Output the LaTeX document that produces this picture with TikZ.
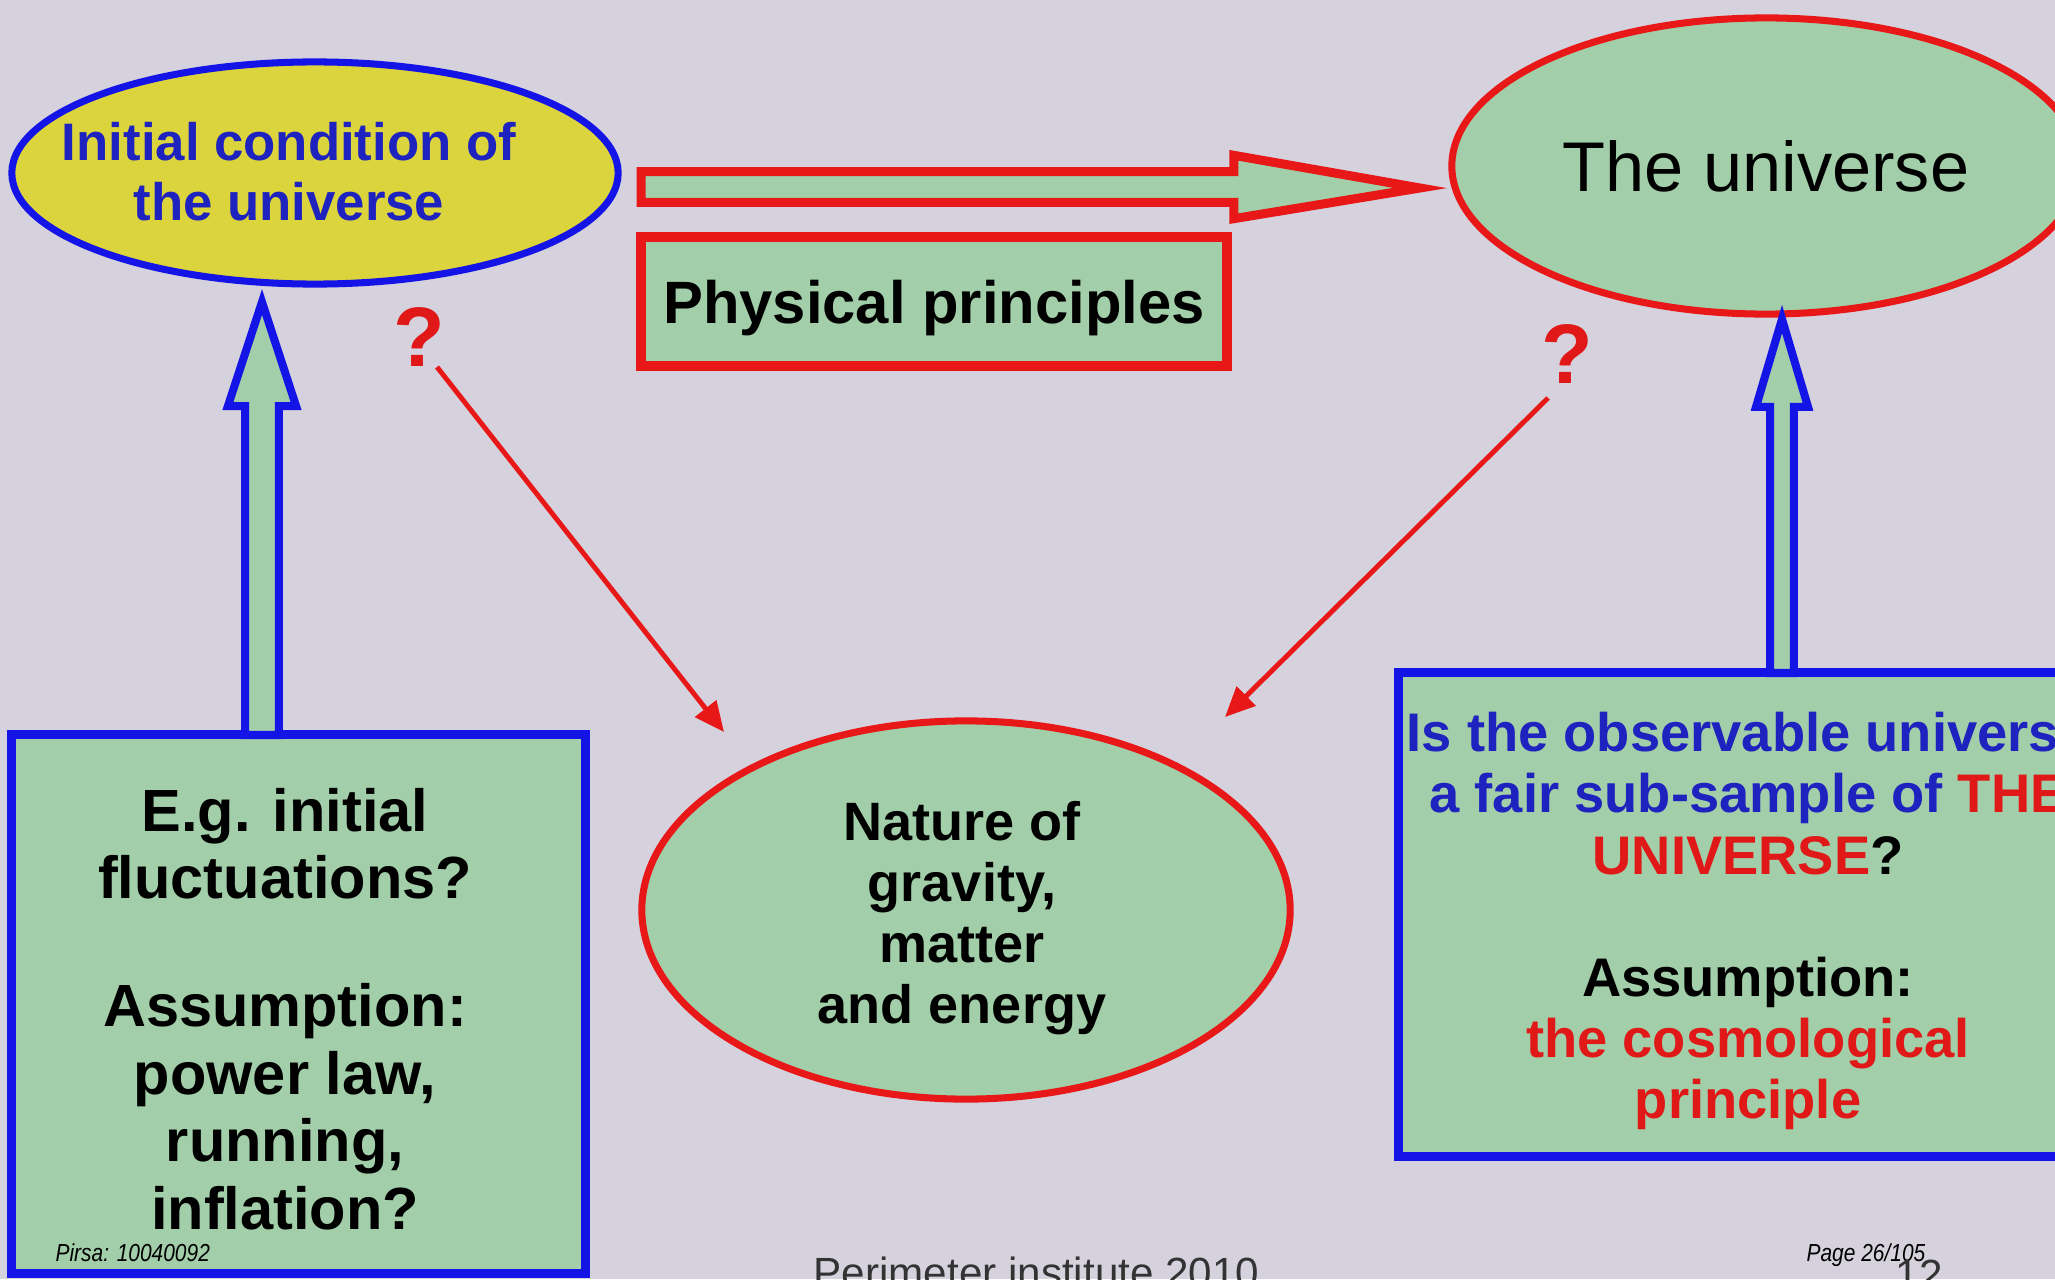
\documentclass[tikz,border=0pt]{standalone}
\usepackage{fontspec}
\setmainfont{Liberation Sans}
\usetikzlibrary{arrows.meta,shapes.geometric,calc}
\definecolor{bgc}{HTML}{D5D1DD}
\definecolor{fillg}{HTML}{A2CFA9}
\definecolor{filly}{HTML}{DCD43C}
\definecolor{lblue}{HTML}{1414E6}
\definecolor{lred}{HTML}{E81818}
\definecolor{tblue}{HTML}{1E22BE}
\definecolor{tred}{HTML}{E01818}
\definecolor{tgray}{HTML}{333333}
\begin{document}
\begin{tikzpicture}[x=0.01cm,y=-0.01cm,
  ell/.style={ellipse,inner sep=0pt,line width=2pt},
  boxr/.style={rectangle,inner sep=0pt,draw=lred,fill=fillg,line width=2.7pt},
  boxb/.style={rectangle,inner sep=0pt,draw=lblue,fill=fillg,line width=2.5pt},
  bluearr/.style={draw=lblue,fill=fillg,line width=2.28pt,line join=miter},
  redarr/.style={draw=lred,fill=fillg,line width=2.56pt,line join=miter},
  thinarr/.style={draw=lred,line width=1.4pt,-{Triangle[length=8.5pt,width=7.5pt]}},
  txt/.style={inner sep=0pt,align=center}]
\useasboundingbox (0,0) rectangle (2055,1279);
\clip (0,0) rectangle (2055,1279);
\fill[bgc] (0,0) rectangle (2055,1279);

% ellipses
\node[ell,draw=lblue,fill=filly,minimum width=6.06cm,minimum height=2.22cm] (ic) at (315,173) {};
\node[txt,text=tblue,font=\fontsize{15pt}{17.07pt}\selectfont\bfseries] (ictext) at (289,172)
  {Initial condition of\\the universe};
\node[ell,draw=lred,fill=fillg,minimum width=6.28cm,minimum height=2.96cm,
  font=\fontsize{20pt}{24pt}\selectfont,text depth=0pt] (univ) at (1766,166) {The universe};
\node[ell,draw=lred,fill=fillg,minimum width=6.48cm,minimum height=3.78cm] (nat) at (966,910) {};
\node[txt,font=\fontsize{15.36pt}{17.4pt}\selectfont\bfseries] (nattext) at (962,918)
  {Nature of\\gravity,\\matter\\and energy};

% physical principles box
\node[boxr,minimum width=5.86cm,minimum height=1.29cm,text depth=0pt,
  font=\fontsize{17pt}{20pt}\selectfont\bfseries] (pp) at (934,301.5) {Physical principles};

% lower boxes
\node[boxb,minimum width=5.73cm,minimum height=5.38cm] (lbox) at (298.5,1004) {};
\node[txt,font=\fontsize{16.93pt}{19.2pt}\selectfont\bfseries] (lboxtext) at (285,1009)
  {E.g. initial\\fluctuations?\\[17.2pt]Assumption:\\power law,\\running,\\inflation?};
\node[boxb,minimum width=8.01cm,minimum height=4.83cm] (rbox) at (1799.5,914.5) {};
\node[txt,font=\fontsize{15.45pt}{17.36pt}\selectfont\bfseries] (rboxtext) at (1748,921)
  {\textcolor{tblue}{Is the observable universe}\\
   \textcolor{tblue}{a fair sub-sample of} \textcolor{tred}{THE}\\
   \textcolor{tred}{UNIVERSE}?\\[17.36pt]
   Assumption:\\
   \textcolor{tred}{the cosmological}\\
   \textcolor{tred}{principle}};

% block arrows
\coordinate (hA) at (641,187);
\coordinate (hB) at (1420,188);
\draw[redarr] let \p1=(hA), \p2=(hB) in
  (\x1,\y1+4.4pt) -- (\x2-52.9pt,\y1+4.4pt) -- (\x2-52.9pt,\y1+9pt) -- (\p2)
  -- (\x2-52.9pt,\y1-9pt) -- (\x2-52.9pt,\y1-4.4pt) -- (\x1,\y1-4.4pt) -- cycle;

\coordinate (vLa) at (262,735);
\coordinate (vLb) at (262,302);
\draw[bluearr] let \p1=(vLa), \p2=(vLb) in
  (\x1-4.8pt,\y1) -- (\x1-4.8pt,\y2-29.6pt) -- (\x1-9.7pt,\y2-29.6pt) -- (\p2)
  -- (\x1+9.7pt,\y2-29.6pt) -- (\x1+4.8pt,\y2-29.6pt) -- (\x1+4.8pt,\y1) -- cycle;

\coordinate (vRa) at (1782,673);
\coordinate (vRb) at (1782,319);
\draw[bluearr] let \p1=(vRa), \p2=(vRb) in
  (\x1-3.4pt,\y1) -- (\x1-3.4pt,\y2-25pt) -- (\x1-7.4pt,\y2-25pt) -- (\p2)
  -- (\x1+7.4pt,\y2-25pt) -- (\x1+3.4pt,\y2-25pt) -- (\x1+3.4pt,\y1) -- cycle;

% question marks and thin arrows
\node[inner sep=0pt,anchor=base,text=tred,font=\fontsize{24pt}{28pt}\selectfont\bfseries] (qL) at (419,366) {?};
\node[inner sep=0pt,anchor=base,text=tred,font=\fontsize{24pt}{28pt}\selectfont\bfseries] (qR) at (1567,383) {?};
\coordinate (aLs) at (437,367);
\coordinate (aLe) at (724,732);
\coordinate (aRs) at (1548,398);
\coordinate (aRe) at (1225,717);
\draw[thinarr] (aLs) -- (aLe);
\draw[thinarr] (aRs) -- (aRe);

% footer
\node[inner sep=0pt,anchor=base west,xscale=0.85,font=\fontsize{7pt}{8pt}\selectfont\itshape] (pirsa) at (55,1261) {Pirsa: 10040092};
\node[inner sep=0pt,anchor=base west,xscale=0.85,font=\fontsize{7pt}{8pt}\selectfont\itshape] (page) at (1806,1261) {Page 26/105};
\node[inner sep=0pt,anchor=base west,text=tgray,font=\fontsize{12pt}{14pt}\selectfont] (peri) at (813,1287) {Perimeter institute 2010};
\node[inner sep=0pt,anchor=base west,text=tgray,font=\fontsize{12pt}{14pt}\selectfont] (num) at (1895,1289) {12};
\end{tikzpicture}
\end{document}
